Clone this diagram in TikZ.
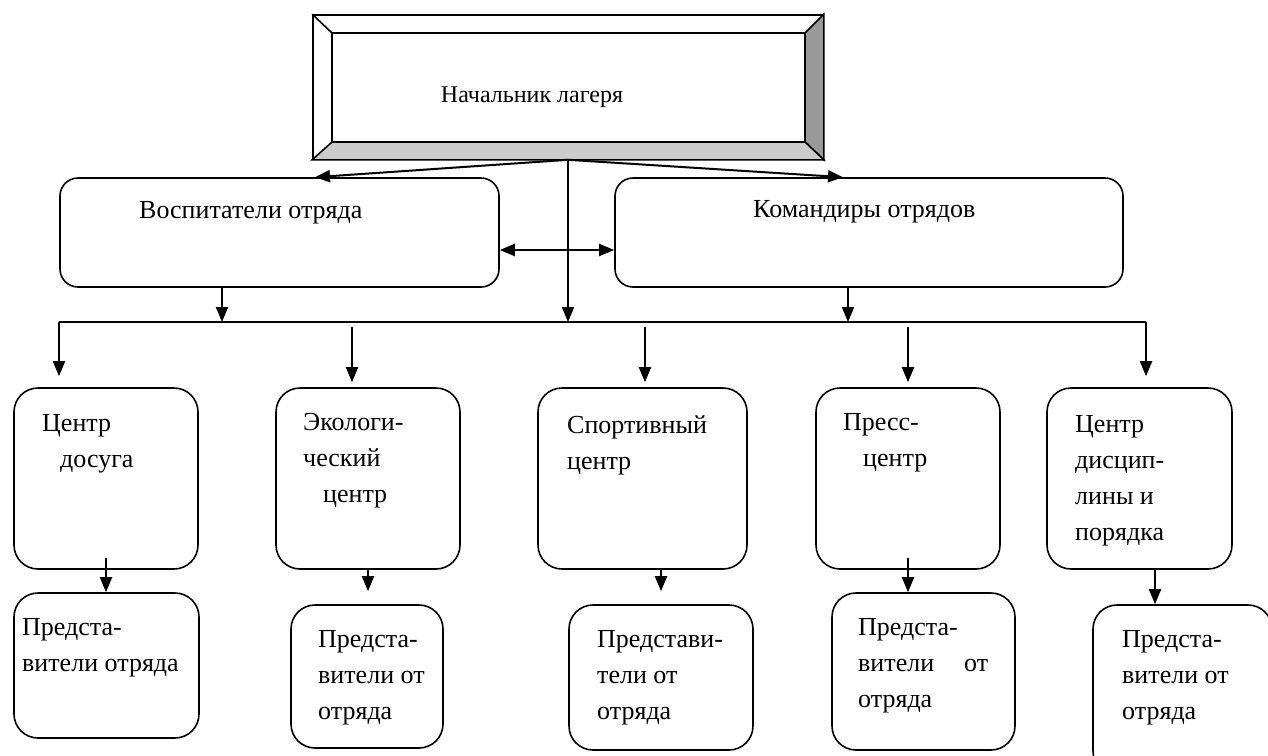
\documentclass[tikz,border=0pt]{standalone}
\usepackage{fontspec}
\setmainfont{Liberation Serif}
\usetikzlibrary{arrows.meta}

\begin{document}
\begin{tikzpicture}[x=1pt,y=-1pt,
    every node/.style={font=\fontsize{26}{36}\selectfont},
    head/.style={draw,rounded corners=18pt,line width=1.6pt,inner sep=0pt,minimum height=109pt},
    dept/.style={draw,rounded corners=24pt,line width=1.6pt,inner sep=0pt},
    txt/.style={anchor=north west,inner sep=0pt,align=left},
    arr/.style={-{Triangle[length=15pt,width=12pt]},line width=2pt},
    darr/.style={{Triangle[length=15pt,width=12pt]}-{Triangle[length=15pt,width=12pt]},line width=2pt}]
    \useasboundingbox (0,0) rectangle (1268,755);
    \clip (0,0) rectangle (1268,755);

    % chief box with bevel
    \node[draw,line width=1.6pt,minimum width=510pt,minimum height=144pt,inner sep=0pt] (chief) at (568,87) {};
    \coordinate (iNW) at (332,33);
    \coordinate (iNE) at (805,33);
    \coordinate (iSE) at (805,142);
    \coordinate (iSW) at (332,142);
    \filldraw[line width=1.6pt,fill=black!40] (chief.north east) -- (chief.south east) -- (iSE) -- (iNE) -- cycle;
    \filldraw[line width=1.6pt,fill=black!20] (chief.south west) -- (chief.south east) -- (iSE) -- (iSW) -- cycle;
    \draw[line width=1.6pt] (iNW) rectangle (iSE);
    \draw[line width=1.6pt] (chief.north west) -- (iNW);
    \node[anchor=base,inner sep=0pt,font=\fontsize{24}{36}\selectfont] (chieftxt) at (532,102) {Начальник лагеря};

    % second level
    \node[head,minimum width=439pt] (vosp) at (279.5,232.5) {};
    \node[head,minimum width=508pt] (kom) at (869,232.5) {};
    \node[anchor=base west,inner sep=0pt] (vosptxt) at (139,218) {Воспитатели отряда};
    \node[anchor=base west,inner sep=0pt] (komtxt) at (753,217) {Командиры отрядов};

    % centres
    \node[dept,minimum width=184pt,minimum height=181pt] (c1) at (106,478.5) {};
    \node[dept,minimum width=184pt,minimum height=181pt] (c2) at (368,478.5) {};
    \node[dept,minimum width=209pt,minimum height=181pt] (c3) at (642.5,478.5) {};
    \node[dept,minimum width=184pt,minimum height=181pt] (c4) at (908,478.5) {};
    \node[dept,minimum width=185pt,minimum height=181pt] (c5) at (1139.5,478.5) {};
    \node[txt] (c1txt) at (42,414) {Центр\\\hspace*{18pt}досуга};
    \node[txt] (c2txt) at (303,413) {Экологи-\\ческий\\\hspace*{20pt}центр};
    \node[txt] (c3txt) at (567,415) {Спортивный\\центр};
    \node[txt] (c4txt) at (843,413) {Пресс-\\\hspace*{20pt}центр};
    \node[txt] (c5txt) at (1075,415) {Центр\\дисцип-\\лины и\\порядка};

    % representatives
    \node[dept,minimum width=185pt,minimum height=145pt] (r1) at (106.5,665.5) {};
    \node[dept,minimum width=152pt,minimum height=143pt] (r2) at (367,676.5) {};
    \node[dept,minimum width=184pt,minimum height=145pt] (r3) at (661,677.5) {};
    \node[dept,minimum width=183pt,minimum height=157pt] (r4) at (923.5,671.5) {};
    \node[dept,minimum width=179pt,minimum height=170pt] (r5) at (1182.5,690) {};
    \node[txt] (r1txt) at (22,618) {Предста-\\вители отряда};
    \node[txt] (r2txt) at (318,630) {Предста-\\вители от\\отряда};
    \node[txt] (r3txt) at (597,630) {Представи-\\тели от\\отряда};
    \node[txt] (r4txt) at (858,618) {Предста-\\вители\hspace{30pt}от\\отряда};
    \node[txt] (r5txt) at (1122,630) {Предста-\\вители от\\отряда};

    % connectors
    \coordinate (barL) at (59,322);
    \coordinate (barR) at (1146,322);
    \coordinate (b2) at (352,327);
    \coordinate (b3) at (645,327);
    \coordinate (b4) at (908,327);
    \draw[arr] (chief.south) -- ([xshift=35.5pt]vosp.north);
    \draw[arr] (chief.south) -- ([xshift=-26pt]kom.north);
    \draw[arr] (chief.south) -- (chief.south |- barL);
    \draw[darr] ([yshift=-17.5pt]vosp.east) -- ([yshift=-17.5pt]kom.west);
    \draw[arr] ([xshift=-57.5pt]vosp.south) -- ([xshift=-57.5pt]vosp.south |- barL);
    \draw[arr] ([xshift=-21pt]kom.south) -- ([xshift=-21pt]kom.south |- barL);
    \draw[line width=2.5pt] (barL) -- (barR);
    \draw[arr,shorten >=11pt] (barL) -- (barL |- c1.north);
    \draw[arr,shorten >=5pt] (b2) -- (b2 |- c2.north);
    \draw[arr,shorten >=5pt] (b3) -- (b3 |- c3.north);
    \draw[arr,shorten >=5pt] (b4) -- (b4 |- c4.north);
    \draw[arr,shorten >=11pt] (barR) -- (barR |- c5.north);
    \draw[arr] ([yshift=12pt]c1.south) -- (c1.south |- r1.north);
    \draw[arr,shorten >=13pt] (c2.south) -- (c2.south |- r2.north);
    \draw[arr,shorten >=13pt] (r3.north |- c3.south) -- (r3.north);
    \draw[arr] ([yshift=12pt]c4.south) -- (c4.south |- r4.north);
    \draw[arr] ([xshift=15.5pt]c5.south) -- ([xshift=15.5pt]c5.south |- r5.north);
\end{tikzpicture}
\end{document}
